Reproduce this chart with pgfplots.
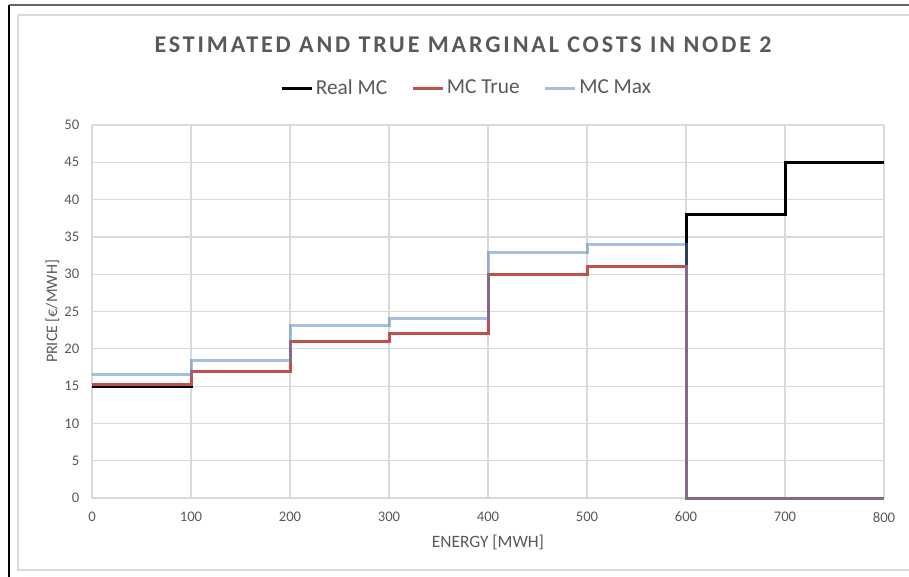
\documentclass[border=0pt]{standalone}
\usepackage{pgfplots}
\pgfplotsset{compat=1.18}
\usepackage{fontspec}
\setmainfont{Carlito}
\definecolor{txtgray}{HTML}{595959}
\definecolor{gridgray}{HTML}{D9D9D9}
\definecolor{mcred}{HTML}{C0504D}
\definecolor{mcblue}{HTML}{4F81BD}
\begin{document}
\begin{tikzpicture}
\path[use as bounding box] (0pt,0pt) rectangle (681.75pt,-432.75pt);
% frame
\draw[gridgray, line width=1.5pt] (13.5pt,-11.25pt) -- (13.5pt,-427.5pt) -- (690pt,-427.5pt);
\draw[gridgray, line width=1.5pt] (13.5pt,-11.25pt) -- (690pt,-11.25pt);
\draw[black, line width=1.2pt] (6.75pt,-3.75pt) -- (6.75pt,-440pt);
\draw[black!60, line width=1.5pt] (6.75pt,-3.75pt) -- (690pt,-3.75pt);
\begin{axis}[
  at={(69pt,-373.5pt)}, anchor=south west,
  scale only axis, width=594pt, height=279.75pt,
  xmin=0, xmax=800, ymin=0, ymax=50,
  xtick={0,100,...,800}, ytick={0,5,...,50},
  grid=major, major grid style={gridgray, line width=0.9pt},
  axis line style={draw=none},
  major tick length=0pt,
  clip=false,
  /pgf/number format/assume math mode=true,
  ticklabel style={font=\fontsize{11}{13}\selectfont, text=txtgray},
  xticklabel style={yshift=-7pt},
  yticklabel style={xshift=-6pt},
  xlabel={ENERGY [MWH]}, ylabel={PRICE [€/MWH]},
  xlabel style={font=\fontsize{13}{15}\selectfont, text=txtgray, at={(rel axis cs:0.5,0)}, yshift=-24pt},
  ylabel style={font=\fontsize{12}{14}\selectfont, text=txtgray, at={(rel axis cs:0,0.5)}, yshift=21pt},
  legend columns=3,
  legend style={draw=none, fill=none, at={(rel axis cs:0.4735,1.099)}, anchor=center,
    font=\fontsize{16}{18}\selectfont, text=txtgray, inner sep=0pt,
    /tikz/every even column/.append style={column sep=16pt}},
  legend image code/.code={\draw[#1] (0pt,0pt) -- (22.5pt,0pt);},
]
\addplot[const plot, black, line width=2.25pt] coordinates {
 (0,15) (100,17) (200,21) (300,22) (400,30) (500,31) (600,38) (700,45) (800,45)};
\addlegendentry{Real MC}
\addplot[const plot, mcred, line width=2.25pt] coordinates {
 (0,15.25) (100,17) (200,21) (300,22) (400,30) (500,31) (600,0) (800,0)};
\addlegendentry{MC True}
\addplot[const plot, mcblue, opacity=0.5, line width=2.25pt] coordinates {
 (0,16.5) (100,18.4) (200,23.1) (300,24.1) (400,32.9) (500,34) (600,0) (800,0)};
\addlegendentry{MC Max}
\end{axis}
\node[text=txtgray, font=\fontsize{18}{21}\selectfont\bfseries\addfontfeature{LetterSpace=12}] at (347.25pt,-33.75pt) {ESTIMATED AND TRUE MARGINAL COSTS IN NODE 2};
\end{tikzpicture}
\end{document}
